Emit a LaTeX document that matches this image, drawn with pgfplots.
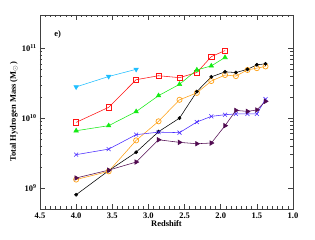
\documentclass[border=0pt]{standalone}
\usepackage{pgfplots}
\pgfplotsset{compat=1.18}
\usepackage{fontspec}
\setmainfont{Liberation Serif}
\definecolor{ccyan}{RGB}{30,190,255}
\definecolor{cred}{RGB}{255,20,20}
\definecolor{cgreen}{RGB}{20,235,20}
\definecolor{corange}{RGB}{255,160,20}
\definecolor{cblue}{RGB}{70,40,255}
\definecolor{cpurple}{RGB}{80,10,80}
\begin{document}
\begin{tikzpicture}
\begin{axis}[
  scale only axis, width=253bp, height=194bp,
  xmin=1.0, xmax=4.5, x dir=reverse,
  ymode=log, ymin=5e8, ymax=3e11,
  xtick={1.0,1.5,2.0,2.5,3.0,3.5,4.0,4.5},
  xticklabels={\textbf{1.0},\textbf{1.5},\textbf{2.0},\textbf{2.5},\textbf{3.0},\textbf{3.5},\textbf{4.0},\textbf{4.5}},
  minor x tick num=6,
  ytick={1e9,1e10,1e11},
  yticklabels={\textbf{10}\textsuperscript{\textbf{9}},\textbf{10}\textsuperscript{\textbf{10}},\textbf{10}\textsuperscript{\textbf{11}}},
  tick align=inside, ticks=both,
  major tick length=5bp, minor tick length=2.5bp,
  axis line style={black!75, line width=0.6pt},
  every tick/.style={black!75, line width=0.5pt},
  tick label style={font=\fontsize{8.5}{9}\selectfont},
  xlabel={\textbf{Redshift}},
  ylabel={\textbf{Total Hydrogen Mass (M$_\odot$)}},
  label style={font=\fontsize{8.5}{9}\selectfont},
  xlabel style={yshift=5pt},
  ylabel style={yshift=-3pt},
  every axis plot/.append style={line width=0.55pt},
  clip=false,
]
\addplot[color=ccyan, mark=triangle*, mark size=2.6pt, mark options={rotate=180}] coordinates {
 (4.0,2.8e10) (3.55,3.95e10) (3.17,5.0e10)};
\addplot[color=cred, mark=square, mark size=2.6pt, mark options={line width=0.7pt}] coordinates {
 (4.0,8.7e9) (3.55,1.43e10) (3.17,3.55e10) (2.86,4.05e10) (2.57,3.8e10) (2.33,4.5e10) (2.13,7.6e10) (1.94,9.3e10)};
\addplot[color=cgreen, mark=triangle*, mark size=2.6pt] coordinates {
 (4.0,6.6e9) (3.55,7.8e9) (3.17,1.24e10) (2.86,2.1e10) (2.57,3.05e10) (2.33,4.9e10) (2.13,5.6e10) (1.94,7.4e10)};
\addplot[color=corange, mark=o, mark size=2.6pt, mark options={line width=0.7pt}] coordinates {
 (4.0,1.32e9) (3.55,1.73e9) (3.17,4.8e9) (2.86,9.0e9) (2.57,1.83e10) (2.33,2.3e10) (2.13,3.4e10) (1.94,4.15e10) (1.79,4.0e10) (1.63,4.9e10) (1.50,5.2e10) (1.38,5.5e10)};
\addplot[color=black, mark=*, mark size=1.6pt] coordinates {
 (4.0,8.0e8) (3.55,1.77e9) (3.17,3.25e9) (2.86,6.4e9) (2.57,1.0e10) (2.33,2.4e10) (2.13,3.9e10) (1.94,4.6e10) (1.79,4.5e10) (1.63,5.0e10) (1.50,5.8e10) (1.38,6.0e10)};
\addplot[color=cblue, mark=x, mark size=2.8pt] coordinates {
 (4.0,3.0e9) (3.55,3.6e9) (3.17,5.8e9) (2.86,6.3e9) (2.57,6.2e9) (2.33,8.8e9) (2.13,1.06e10) (1.94,1.12e10) (1.79,1.15e10) (1.63,1.15e10) (1.50,1.15e10) (1.38,1.87e10)};
\addplot[color=cpurple, mark=triangle*, mark size=2.6pt, mark options={rotate=-90}] coordinates {
 (4.0,1.39e9) (3.55,1.8e9) (3.17,2.35e9) (2.86,4.9e9) (2.57,4.5e9) (2.33,4.3e9) (2.13,4.4e9) (1.94,7.8e9) (1.79,1.29e10) (1.63,1.25e10) (1.50,1.31e10) (1.38,1.74e10)};
\node[font=\fontsize{8.5}{9}\selectfont\bfseries] at (rel axis cs:0.07,0.9) {e)};
\end{axis}
\path (current axis.south west) ++(-40bp,-31bp) rectangle ([shift={(22bp,15bp)}]current axis.north east);
\end{tikzpicture}
\end{document}
